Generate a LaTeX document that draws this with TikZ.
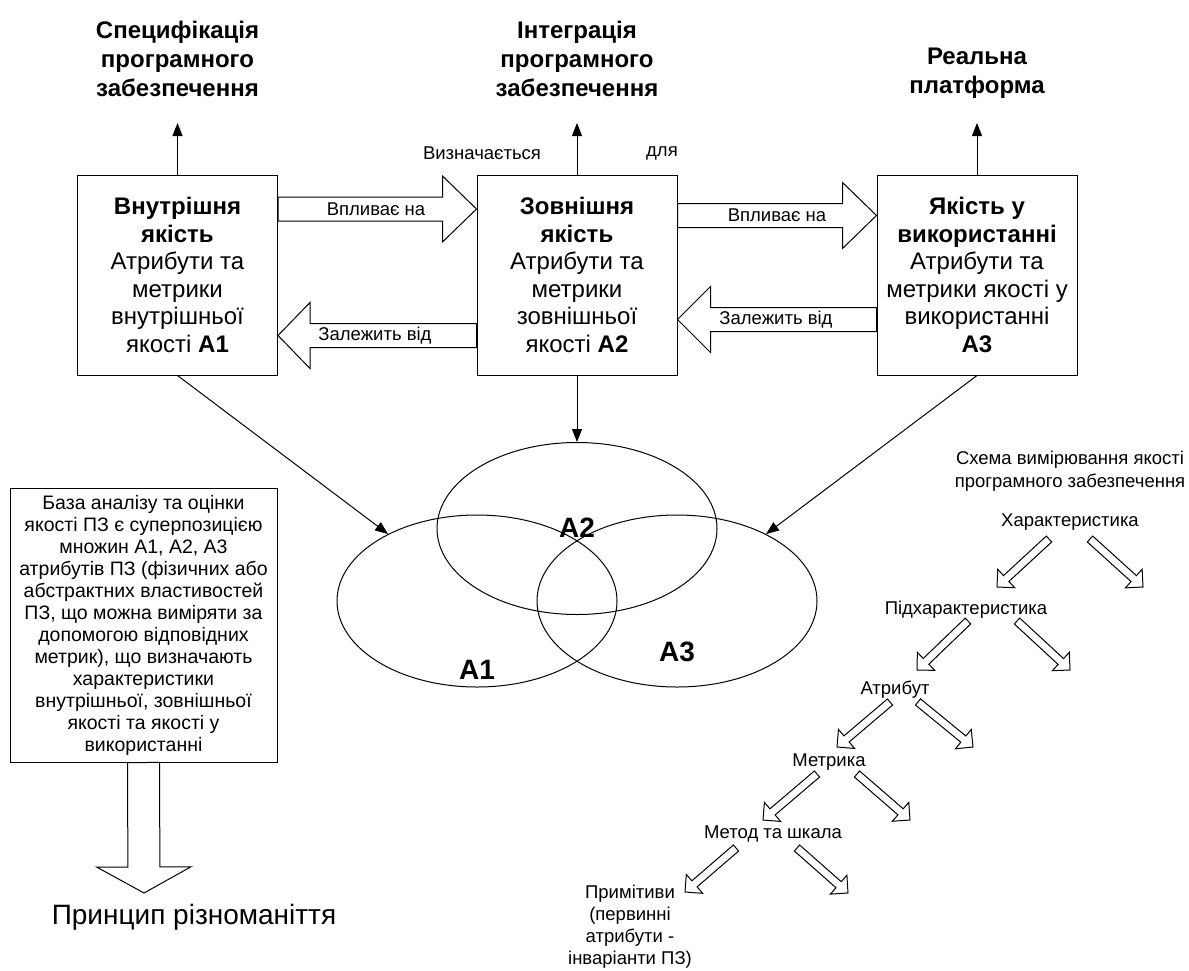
\documentclass[tikz,border=0pt]{standalone}
\usepackage{fontspec}
\setmainfont{Liberation Sans}
\usetikzlibrary{shapes,arrows.meta,positioning,calc}

% hollow block arrow: from, to, half shaft, half head, head length
\newcommand{\fatarrow}[5]{%
  \draw[fill=white] ($(#1)!#3!90:(#2)$) -- ($($(#2)!#5!(#1)$)!#3!90:(#2)$)
    -- ($($(#2)!#5!(#1)$)!#4!90:(#2)$) -- (#2)
    -- ($($(#2)!#5!(#1)$)!#4!-90:(#2)$) -- ($($(#2)!#5!(#1)$)!#3!-90:(#2)$)
    -- ($(#1)!#3!-90:(#2)$) -- cycle;}

\begin{document}
\begin{tikzpicture}
[x=1pt, y=-1pt, line width=1pt, >={Triangle[length=13pt,width=10pt]},
  mybox/.style={rectangle, draw=black, minimum width=200pt, minimum height=200pt, align=center, inner sep=2pt, font=\fontsize{24}{27.5}\selectfont},
  mytitle/.style={align=center, inner sep=0pt, font=\fontsize{24}{29}\selectfont\bfseries},
  mytext/.style={align=center, inner sep=0pt, font=\fontsize{18.5}{22.5}\selectfont},
  myset/.style={ellipse, draw=black, minimum width=280pt, minimum height=172pt, inner sep=0pt},
  myname/.style={inner sep=0pt, font=\fontsize{28}{32}\selectfont\bfseries}
]
  \useasboundingbox (0,0) rectangle (1189,970);

  \node[mytitle] (spec) at (177.5,59) {Специфікація\\програмного\\забезпечення};
  \node[mytitle] (integ) at (577,59) {Інтеграція\\програмного\\забезпечення};
  \node[mytitle] (platf) at (977,73) {Реальна\\платформа};

  \node[mybox] (inner) at (177.5,275) {\textbf{Внутрішня}\\\textbf{якість}\\Атрибути та\\метрики\\внутрішньої\\якості \textbf{A1}};
  \node[mybox] (outer) at (577,275) {\textbf{Зовнішня}\\\textbf{якість}\\Атрибути та\\метрики\\зовнішньої\\якості \textbf{A2}};
  \node[mybox] (inuse) at (977,275) {\textbf{Якість у}\\\textbf{використанні}\\Атрибути та\\метрики якості у\\використанні\\\textbf{A3}};

  \coordinate (up1) at (177.5,123);
  \coordinate (up2) at (577,123);
  \coordinate (up3) at (977,123);
  \draw[->] (inner.north) -- (up1);
  \draw[->] (outer.north) -- (up2);
  \draw[->] (inuse.north) -- (up3);
  \node[mytext] (defd) at (482,153) {Визначається};
  \node[mytext] (forw) at (662,153) {для};

  % block arrows between the boxes
  \coordinate (f1s) at (inner.east |- 0,209);
  \coordinate (f1t) at (outer.west |- 0,209);
  \coordinate (f2s) at (outer.east |- 0,215.5);
  \coordinate (f2t) at (inuse.west |- 0,215.5);
  \coordinate (b1s) at (inuse.west |- 0,319.5);
  \coordinate (b1t) at (outer.east |- 0,319.5);
  \coordinate (b2s) at (outer.west |- 0,335.5);
  \coordinate (b2t) at (inner.east |- 0,335.5);
  \fatarrow{f1s}{f1t}{12pt}{33pt}{34pt}
  \fatarrow{f2s}{f2t}{12pt}{33pt}{34pt}
  \fatarrow{b1s}{b1t}{12pt}{33pt}{33pt}
  \fatarrow{b2s}{b2t}{12pt}{33pt}{32pt}
  \node[mytext] (aff1) at (376,209) {Впливає на};
  \node[mytext] (aff2) at (777,215.5) {Впливає на};
  \node[mytext] (dep1) at (776,319.5) {Залежить від};
  \node[mytext] (dep2) at (375,335.5) {Залежить від};

  % sets of attributes
  \node[myset] (set2) at (577,528.5) {};
  \node[myset] (set1) at (477,601) {};
  \node[myset] (set3) at (677,601) {};
  \node[myname] (n2) at (577,528) {A2};
  \node[myname] (n1) at (477,670) {A1};
  \node[myname] (n3) at (677,652) {A3};
  \draw[->] (inner.south) -- (set1);
  \draw[->] (outer.south) -- (set2.north);
  \draw[->] (inuse.south) -- (set3);

  % basis of analysis
  \node[mybox, minimum width=267pt, minimum height=274pt, font=\fontsize{19.5}{22}\selectfont] (basis) at (143.5,625)
    {База аналізу та оцінки\\якості ПЗ є суперпозицією\\множин A1, A2, A3\\атрибутів ПЗ (фізичних або\\абстрактних властивостей\\ПЗ, що можна виміряти за\\допомогою відповідних\\метрик), що визначають\\характеристики\\внутрішньої, зовнішньої\\якості та якості у\\використанні};
  \coordinate (pdown) at (144,893);
  \fatarrow{basis.south}{pdown}{16pt}{47pt}{26pt}
  \node[myname, font=\fontsize{28}{32}\selectfont] (principle) at (194,917) {Принцип різноманіття};

  % measurement scheme
  \node[mytext] (schema) at (1070,471) {Схема вимірювання якості\\програмного забезпечення};
  \node[mytext] (charac) at (1070,522) {Характеристика};
  \node[mytext] (subchar) at (966,610) {Підхарактеристика};
  \node[mytext] (attr) at (895,690) {Атрибут};
  \node[mytext] (metric) at (829,762) {Метрика};
  \node[mytext] (method) at (773,834) {Метод та шкала};
  \node[mytext, font=\fontsize{18.5}{22}\selectfont] (prim) at (630,927) {Примітиви\\(первинні\\атрибути -\\інваріанти ПЗ)};
  \foreach \sx/\sy/\tx/\ty [count=\i] in {1049/539/997/587, 1090/539/1143/587,
      968/621/917/670, 1017/621/1070/670, 890/702/837/747, 918/702/973/747,
      817/774/763/820, 857/774/910/820, 736/848/685/892, 797/848/848/893}
  {
    \coordinate (s\i) at (\sx,\sy);
    \coordinate (t\i) at (\tx,\ty);
    \fatarrow{s\i}{t\i}{4pt}{12.5pt}{12.5pt}
  }
\end{tikzpicture}
\end{document}
